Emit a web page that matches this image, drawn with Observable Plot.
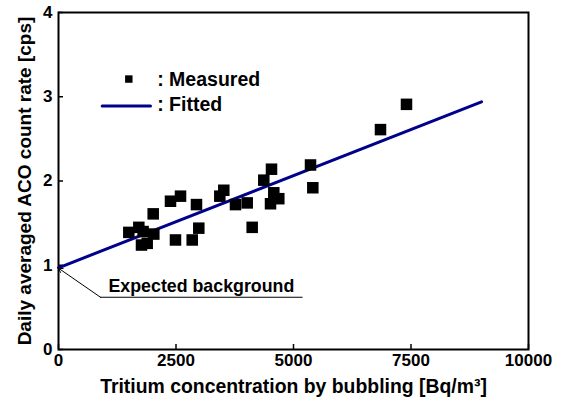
<!DOCTYPE html>
<html>
<head>
<meta charset="utf-8">
<script src="https://cdn.jsdelivr.net/npm/d3@7"></script>
<script src="https://cdn.jsdelivr.net/npm/@observablehq/plot@0.6"></script>
<style>
  html, body { margin: 0; padding: 0; background: #fff; }
  #chart svg { display: block; }
</style>
</head>
<body>
<div id="chart"></div>
<script>
// Measured points
const measuredX = [1496, 1709, 1800, 1766, 1887, 2015, 2028, 2383, 2596, 2489, 2845, 2936, 2985, 3432, 3517, 3766, 4015, 4121, 4368, 4532, 4581, 4511, 4687, 5362, 5411, 6851, 7404];
const measuredY = [1.39, 1.45, 1.40, 1.24, 1.26, 1.61, 1.37, 1.76, 1.82, 1.30, 1.30, 1.72, 1.44, 1.82, 1.89, 1.72, 1.74, 1.45, 2.01, 2.14, 1.86, 1.73, 1.79, 2.19, 1.92, 2.61, 2.91];
// Fitted line end points
const fittedX = [0, 9000];
const fittedY = [0.97, 2.94];
// Ticks
const xTicks = [0, 2500, 5000, 7500, 10000];
const yTicks = [0, 1, 2, 3, 4];
// Texts
const xTitle = "Tritium concentration by bubbling [Bq/m³]";
const yTitle = "Daily averaged ACO count rate [cps]";
const legendLabels = [": Measured", ": Fitted"];
const annotationText = "Expected background";
// Legend anchors (data space)
const legendSymbolX = [1496];
const legendSymbolY = [3.21];
const legendLineX = [930, 1957];
const legendLineY = [2.89, 2.89];
const legendTextX = [2100, 2100];
const legendTextY = [3.205, 2.905];
// Annotation anchors (data space)
const annotLineX = [894, 5185];
const annotLineY = [0.62, 0.62];
const annotArrowTo = [0, 0.965];
const annotTextX = [1064];
const annotTextY = [0.685];

const points = measuredX.map((x, i) => ({x, y: measuredY[i]}));
const fitted = fittedX.map((x, i) => ({x, y: fittedY[i]}));
const legendLine = legendLineX.map((x, i) => ({x, y: legendLineY[i]}));
const legendText = legendLabels.map((t, i) => ({x: legendTextX[i], y: legendTextY[i], t}));
const annotLine = annotLineX.map((x, i) => ({x, y: annotLineY[i]}));

const navy = "#00008b";
const font = "'Liberation Sans', Arial, sans-serif";

const chart = Plot.plot({
  width: 563,
  height: 401,
  marginLeft: 58,
  marginRight: 35,
  marginTop: 12,
  marginBottom: 52,
  style: {fontFamily: font, fontWeight: "bold", fontSize: "17px", color: "#000", background: "#fff"},
  x: {domain: [0, 10000]},
  y: {domain: [0, 4]},
  marks: [
    Plot.frame({stroke: "#000", strokeWidth: 2}),
    Plot.axisX({ticks: xTicks, tickSize: -5, tickPadding: 9, tickFormat: d => String(d), label: null, strokeWidth: 1.5, fontSize: 17, fontWeight: "bold"}),
    Plot.axisY({ticks: yTicks, tickSize: -5, tickPadding: 11, tickFormat: d => String(d), label: null, strokeWidth: 1.5, fontSize: 17, fontWeight: "bold"}),
    Plot.line(fitted, {x: "x", y: "y", stroke: navy, strokeWidth: 3}),
    Plot.dot(points, {x: "x", y: "y", symbol: "square", r: 6.5, fill: "#000", stroke: "none"}),
    // legend
    Plot.dot(legendSymbolX.map((x, i) => ({x, y: legendSymbolY[i]})), {x: "x", y: "y", symbol: "square", r: 4.2, fill: "#000", stroke: "none"}),
    Plot.line(legendLine, {x: "x", y: "y", stroke: navy, strokeWidth: 3}),
    Plot.text(legendText, {x: "x", y: "y", text: "t", textAnchor: "start", fontSize: 19.5, fill: "#000"}),
    // annotation
    Plot.line(annotLine, {x: "x", y: "y", stroke: "#000", strokeWidth: 1}),
    Plot.arrow([{x1: annotLineX[0], y1: annotLineY[0], x2: annotArrowTo[0], y2: annotArrowTo[1]}], {x1: "x1", y1: "y1", x2: "x2", y2: "y2", stroke: "#000", strokeWidth: 1, headLength: 7}),
    Plot.text([annotationText], {x: annotTextX[0], y: annotTextY[0], text: d => d, textAnchor: "start", lineAnchor: "bottom", fontSize: 17.8, fill: "#000"}),
    // axis titles
    Plot.text([xTitle], {frameAnchor: "bottom", text: d => d, dy: 43, textAnchor: "middle", lineAnchor: "bottom", fontSize: 19.4, fill: "#000"}),
    Plot.text([yTitle], {frameAnchor: "left", text: d => d, dx: -34, textAnchor: "middle", rotate: -90, fontSize: 19, fill: "#000"})
  ]
});
document.getElementById("chart").appendChild(chart);
</script>
</body>
</html>
